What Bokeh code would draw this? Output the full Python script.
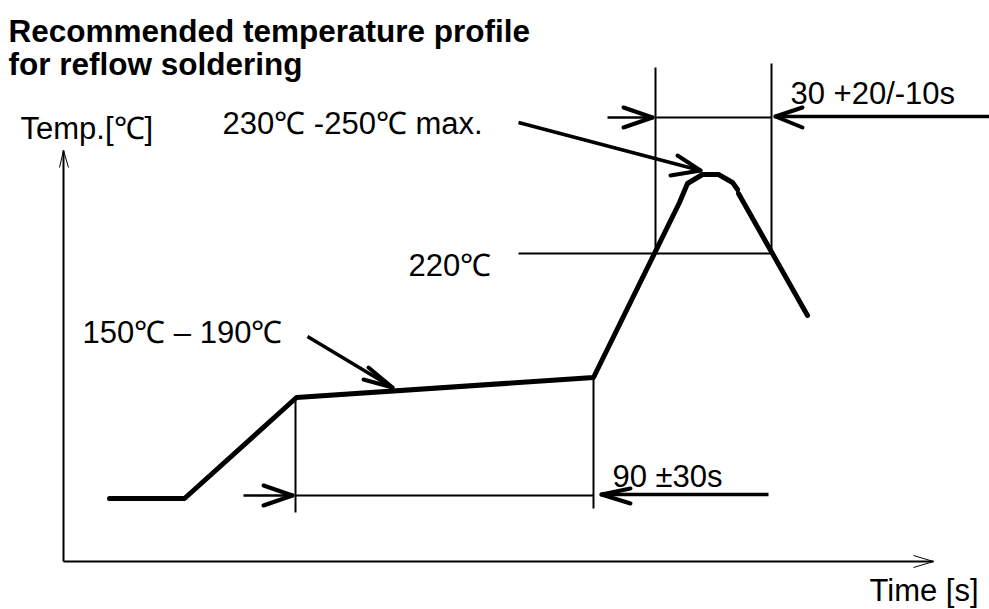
from bokeh.plotting import figure
from bokeh.models import Range1d
from bokeh.core.properties import value
from bokeh.embed import file_html
from bokeh.resources import INLINE

FONT = value("Liberation Sans")

# ---- diagram data (schematic coordinates: x to the right, y downward) ----
# temperature profile curve
profile_x = [109, 184, 296, 593, 679, 687, 702, 718, 732, 737]
profile_y = [498, 498, 397, 377, 202, 183, 174, 174, 182, 189]
fall_x = [738, 807]
fall_y = [193, 315]

# axes
yaxis_x = [63, 63]
yaxis_y = [561, 150]
xaxis_x = [63, 933]
xaxis_y = [561, 561]
yhead_x = [59, 63, 68]
yhead_y = [167, 150, 167]
xhead_x = [913, 933, 913]
xhead_y = [555, 561, 567]

# thin reference lines (peak window, 220C level, soak window)
thin_x0 = [655, 771, 518, 655, 295, 593, 295]
thin_y0 = [67, 63, 253, 117, 397, 377, 495]
thin_x1 = [655, 771, 771, 771, 295, 593, 593]
thin_y1 = [253, 253, 253, 117, 512, 508, 495]

# dimension arrows: shaft start, tip, arm ends
arrow_sx = [607, 989, 243, 768, 518, 307]
arrow_sy = [117, 116, 495, 494, 122, 336]
arrow_tx = [652, 775, 292, 601, 700, 392]
arrow_ty = [117, 116, 495, 494, 170, 387]
arm1_x = [623, 802, 263, 630, 677, 368]
arm1_y = [107, 107, 485, 488, 155, 367]
arm2_x = [623, 802, 263, 630, 670, 363]
arm2_y = [127, 127, 505, 503, 175, 379]
arrow_w = [2.5, 3.5, 2.5, 3.5, 3.5, 3.5]

# labels
label_text = ["Temp.[℃]", "230℃ -250℃ max.", "30 +20/-10s", "220℃",
              "150℃ – 190℃", "90 ±30s", "Time [s]"]
label_x = [20, 222, 790, 408, 82, 612, 869]
label_y = [128, 123, 93, 265, 332, 476, 590]

title_lines = ["Recommended temperature profile", "for reflow soldering"]
title_x = [8, 8]
title_y = [30, 63]

W, H = 989, 609
p = figure(width=W, height=H, x_range=Range1d(0, W), y_range=Range1d(H, 0),
           output_backend="svg", toolbar_location=None, min_border=0,
           x_axis_location=None, y_axis_location=None)
p.grid.visible = False
p.outline_line_color = None
p.background_fill_color = "white"
p.border_fill_color = "white"

# axes
p.line(yaxis_x, yaxis_y, line_color="black", line_width=2)
p.line(xaxis_x, xaxis_y, line_color="black", line_width=2)
p.line(yhead_x, yhead_y, line_color="black", line_width=1)
p.line(xhead_x, xhead_y, line_color="black", line_width=1)

# thin reference lines
p.segment(x0=thin_x0, y0=thin_y0, x1=thin_x1, y1=thin_y1, line_color="black", line_width=2)

# arrows
p.segment(x0=arrow_sx, y0=arrow_sy, x1=arrow_tx, y1=arrow_ty, line_color="black",
          line_width=arrow_w)
p.segment(x0=arm1_x, y0=arm1_y, x1=arrow_tx, y1=arrow_ty, line_color="black",
          line_width=4, line_cap="round")
p.segment(x0=arm2_x, y0=arm2_y, x1=arrow_tx, y1=arrow_ty, line_color="black",
          line_width=4, line_cap="round")

# profile
p.line(profile_x, profile_y, line_color="black", line_width=5, line_join="round",
       line_cap="round")
p.line(fall_x, fall_y, line_color="black", line_width=5, line_cap="round")

# labels
p.text(x=label_x, y=label_y, text=label_text, text_font=FONT, text_font_size="31px",
       text_baseline="alphabetic", text_align="left", text_color="black")
p.text(x=title_x, y=title_y, text=title_lines, text_font=FONT, text_font_size="31.5px",
       text_font_style="bold", text_baseline="alphabetic", text_align="left",
       text_color="black")

open("out.html", "w").write(file_html(p, INLINE))
